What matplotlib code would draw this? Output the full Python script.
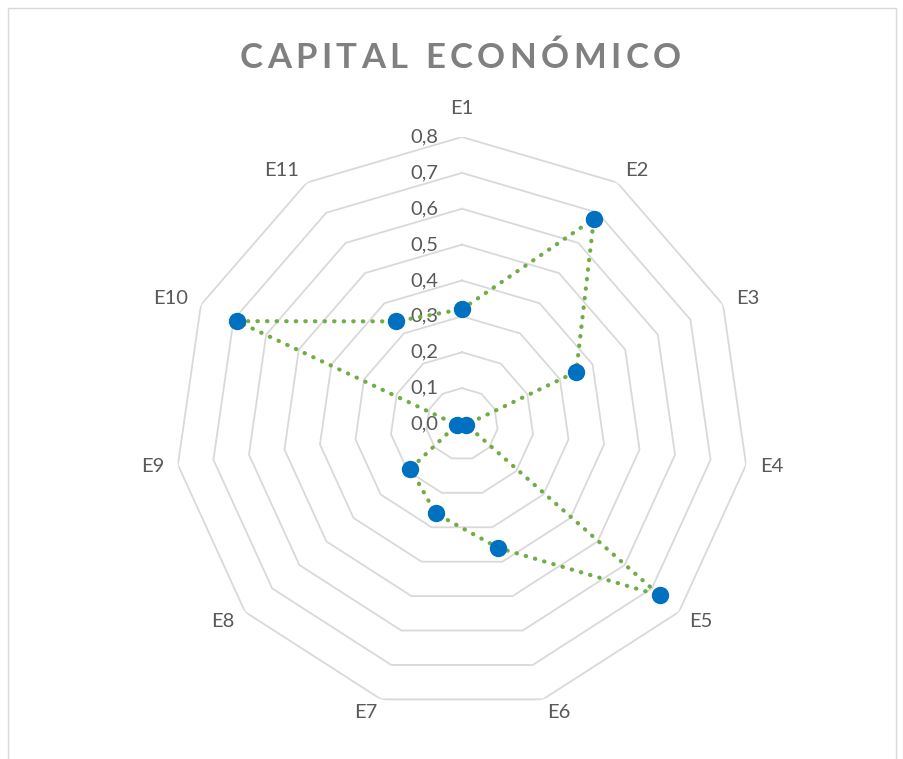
import numpy as np
import matplotlib
matplotlib.use("Agg")
import matplotlib.pyplot as plt
from matplotlib import transforms
from matplotlib.patches import Rectangle

categories = ["E1", "E2", "E3", "E4", "E5", "E6", "E7", "E8", "E9", "E10", "E11"]
values = [0.32, 0.68, 0.35, 0.012, 0.73, 0.36, 0.26, 0.19, 0.015, 0.69, 0.34]
ticks = [0.0, 0.1, 0.2, 0.3, 0.4, 0.5, 0.6, 0.7, 0.8]
tick_labels = ["0,0", "0,1", "0,2", "0,3", "0,4", "0,5", "0,6", "0,7", "0,8"]
title = "CAPITAL ECONÓMICO"

W, H = 904, 759
fig = plt.figure(figsize=(W / 100, H / 100), dpi=100)
fig.patch.set_facecolor("white")

# chart border
fig.patches.append(Rectangle((8 / W, -0.05), (896 - 8) / W, (H - 8) / H + 0.05,
                             transform=fig.transFigure, fill=False,
                             edgecolor="#d9d9d9", linewidth=1))

cx, cy, R = 462, 424, 287
ax = fig.add_axes([(cx - R) / W, (H - cy - R) / H, 2 * R / W, 2 * R / H], polar=True)
ax.set_theta_zero_location("N")
ax.set_theta_direction(-1)
ax.set_ylim(0, 0.8)
ax.grid(False)
ax.spines["polar"].set_visible(False)
ax.set_xticks([])
ax.set_yticks([])
ax.patch.set_alpha(0)

n = len(categories)
angles = np.arange(n) * 2 * np.pi / n
closed = np.append(angles, angles[0])

for t in ticks[1:]:
    ax.plot(closed, [t] * (n + 1), color="#d9d9d9", linewidth=1.3, zorder=1)

font = "Lato"
txtcol = "#595959"
fsz = 14.5

# radial tick labels
off = transforms.offset_copy(ax.transData, fig=fig, x=-24, y=0, units="dots")
for t, lab in zip(ticks, tick_labels):
    ax.text(0, t, lab, transform=off, ha="right", va="center", fontsize=fsz,
            color=txtcol, family=font, zorder=2)

# category labels, anchored just outside the outer vertex
rmax = ticks[-1]
for a, c in zip(angles, categories):
    s, co = np.sin(a), np.cos(a)
    if abs(s) < 0.1:
        d = 20
        ha = "center"
        va = "bottom" if co > 0 else "top"
    else:
        d = 14
        ha = "left" if s > 0 else "right"
        va = "center"
    tr = transforms.offset_copy(ax.transData, fig=fig, x=d * s, y=d * co, units="dots")
    ax.text(a, rmax, c, transform=tr, ha=ha, va=va, fontsize=fsz, color=txtcol,
            family=font, zorder=2)

vals = np.append(values, values[0])
ax.plot(closed, vals, color="#70ad47", linewidth=3, linestyle=(0, (0.1, 2.2)),
        dash_capstyle="round", zorder=3)
ax.plot(angles, values, linestyle="none", marker="o", markersize=11.5,
        markerfacecolor="#0070c0", markeredgecolor="#0070c0", zorder=4)

# title with letter spacing
fig.canvas.draw()
renderer = fig.canvas.get_renderer()
fs = 25
track = 4.4
widths = []
for ch in title:
    tt = fig.text(0, 0, "n" if ch == " " else ch, fontsize=fs, family=font, weight="bold")
    widths.append(tt.get_window_extent(renderer).width * (0.45 if ch == " " else 1))
    tt.remove()
total = sum(widths) + track * (len(title) - 1)
x = 460 - total / 2
ty = H - 68
for ch, w in zip(title, widths):
    if ch != " ":
        fig.text(x / W, ty / H, ch, fontsize=fs, family=font, weight="bold",
                 color="#808080", ha="left", va="baseline")
    x += w + track

fig.savefig("out.png", dpi=100, facecolor="white")
